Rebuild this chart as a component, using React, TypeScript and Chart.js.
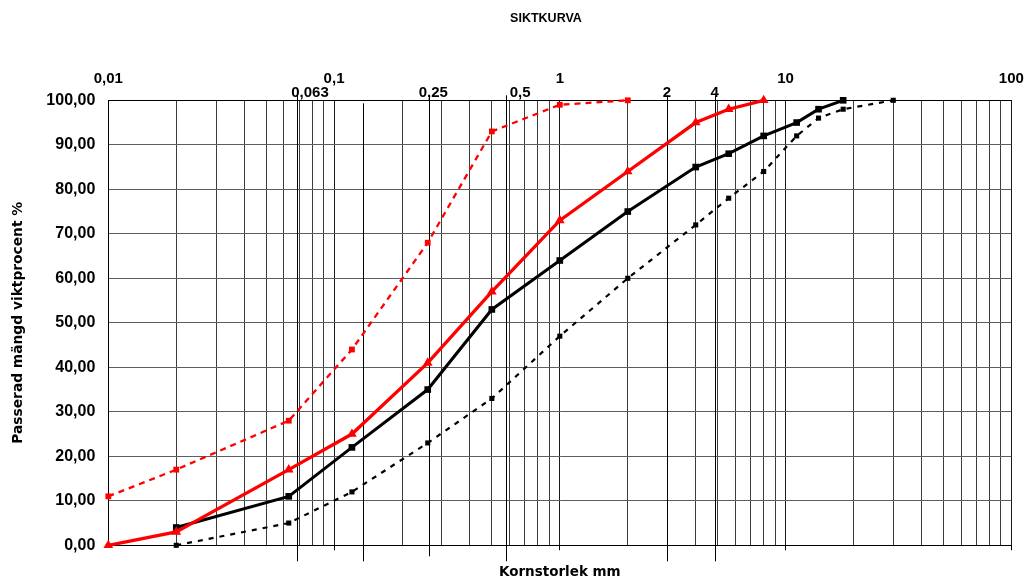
import React, { useEffect, useRef } from 'react';
import { Chart, registerables } from 'chart.js';

Chart.register(...registerables);

const TITLE = 'SIKTKURVA';
const X_TITLE = 'Kornstorlek mm';
const Y_TITLE = 'Passerad mängd viktprocent %';

// Sieve sizes (mm) as placed on the chart
const SIEVE_MM = [0.01, 0.02, 0.063, 0.12, 0.26, 0.5, 1, 2, 4, 5.6, 8, 11.2, 14, 18, 30];

// Passing percentages per sieve (null = no value)
const BLACK_SOLID = [null, 4, 11, 22, 35, 53, 64, 75, 85, 88, 92, 95, 98, 100, null];
const RED_SOLID = [0, 3, 17, 25, 41, 57, 73, 84, 95, 98, 100, null, null, null, null];
const RED_DASHED = [11, 17, 28, 44, 68, 93, 99, 100, null, null, null, null, null, null, null];
const BLACK_DASHED = [null, 0, 5, 12, 23, 33, 47, 60, 72, 78, 84, 92, 96, 98, 100];

// Axis ticks
const DECADE_TICKS = [0.01, 0.1, 1, 10, 100];
const DECADE_LABELS = ['0,01', '0,1', '1', '10', '100'];
const GRID_MANTISSAS = [1, 2, 3, 4, 5, 6, 7, 8, 9];
const Y_MIN = 0;
const Y_MAX = 100;
const Y_STEP = 10;

// Extra reference lines drawn across the chart, with their labels
const MARKER_LINES = [0.0685, 0.135, 0.264, 0.578, 2.98, 4.85];
const MARKER_LABELS = ['0,063', '', '0,25', '0,5', '2', '4'];

function toPoints(values: (number | null)[]) {
  return SIEVE_MM.map((x, i) => ({ x, y: values[i] })).filter((p) => p.y !== null);
}

function gridTicks() {
  const out: number[] = [];
  for (let d = 0; d < DECADE_TICKS.length - 1; d++) {
    for (const m of GRID_MANTISSAS) out.push(parseFloat((DECADE_TICKS[d] * m).toPrecision(6)));
  }
  out.push(DECADE_TICKS[DECADE_TICKS.length - 1]);
  return out;
}

const LABEL_DX = [13, 0, 4, 14, 0, 0];

const overlayPlugin = {
  id: 'overlay',
  beforeDatasetsDraw(chart: any) {
    const { ctx, chartArea, scales } = chart;
    const x = scales.x;
    ctx.save();
    ctx.strokeStyle = '#000';
    ctx.lineWidth = 1;
    MARKER_LINES.forEach((v, i) => {
      const px = Math.round(x.getPixelForValue(v)) + 0.5;
      const top = MARKER_LABELS[i] ? chartArea.top - 5 : chartArea.top + 3;
      const bottom = chartArea.bottom + (i === 2 ? 11 : 16);
      ctx.beginPath();
      ctx.moveTo(px, top);
      ctx.lineTo(px, bottom);
      ctx.stroke();
    });
    ctx.fillStyle = '#000';
    ctx.font = 'bold 15px "Liberation Sans"';
    ctx.textAlign = 'center';
    ctx.textBaseline = 'alphabetic';
    MARKER_LABELS.forEach((lab, i) => {
      if (!lab) return;
      const px = x.getPixelForValue(MARKER_LINES[i]) + LABEL_DX[i];
      ctx.fillText(lab, px, chartArea.top - 3);
    });
    ctx.font = 'bold 12.5px "Liberation Sans"';
    ctx.textBaseline = 'middle';
    ctx.fillText(TITLE, 546, 19);
    ctx.restore();
  },
};

export default function App() {
  const ref = useRef<HTMLCanvasElement | null>(null);

  useEffect(() => {
    if (!ref.current) return;
    const base = {
      showLine: true,
      spanGaps: false,
      pointBorderWidth: 0,
      fill: false,
      tension: 0,
      clip: false,
    };
    const noSidePadding = (s: any) => {
      s.paddingLeft = 0;
      s.paddingRight = 0;
    };
    const chart = new Chart(ref.current, {
      type: 'scatter',
      data: {
        datasets: [
          {
            ...base,
            label: 'red solid',
            data: toPoints(RED_SOLID),
            borderColor: '#ff0000',
            backgroundColor: '#ff0000',
            borderWidth: 3.3,
            pointStyle: 'triangle',
            pointRadius: 5.6,
            order: 0,
          },
          {
            ...base,
            label: 'black solid',
            data: toPoints(BLACK_SOLID),
            borderColor: '#000000',
            backgroundColor: '#000000',
            borderWidth: 3,
            pointStyle: 'rect',
            pointRadius: 4.7,
            order: 1,
          },
          {
            ...base,
            label: 'red dashed',
            data: toPoints(RED_DASHED),
            borderColor: '#ff0000',
            backgroundColor: '#ff0000',
            borderWidth: 2.3,
            borderDash: [6, 5],
            pointStyle: 'rect',
            pointRadius: 4.1,
            order: 2,
          },
          {
            ...base,
            label: 'black dashed',
            data: toPoints(BLACK_DASHED),
            borderColor: '#000000',
            backgroundColor: '#000000',
            borderWidth: 2.2,
            borderDash: [5, 6],
            pointStyle: 'rect',
            pointRadius: 3.6,
            order: 3,
          },
        ],
      },
      options: {
        animation: false,
        responsive: false,
        devicePixelRatio: 1,
        layout: { padding: { top: 0, right: 15.7, bottom: 0, left: 0 } },
        plugins: {
          legend: { display: false },
          tooltip: { enabled: false },
          title: { display: false },
        },
        scales: {
          x: {
            type: 'logarithmic',
            position: 'bottom',
            min: 0.01,
            max: 100,
            afterBuildTicks: (s: any) => {
              s.ticks = gridTicks().map((value) => ({ value }));
            },
            afterFit: (s: any) => {
              s.height = 33.7;
              noSidePadding(s);
            },
            ticks: { display: false },
            grid: {
              color: (c: any) => {
                const v = c.tick ? c.tick.value : 0;
                return DECADE_TICKS.includes(v) ? '#1a1a1a' : '#3c3c3c';
              },
              lineWidth: 1,
              drawTicks: true,
              tickLength: 5,
              tickColor: (c: any) => {
                const v = c.tick ? c.tick.value : 0;
                return DECADE_TICKS.includes(v) && v !== 0.01 ? '#000' : 'rgba(0,0,0,0)';
              },
            },
            border: { display: true, color: '#000', width: 1 },
            title: {
              display: true,
              text: X_TITLE,
              color: '#000',
              font: { family: '"DejaVu Sans"', weight: 'bold', size: 13.5, lineHeight: 1 },
              padding: { top: 0, bottom: 0 },
            },
          },
          x2: {
            type: 'logarithmic',
            position: 'top',
            min: 0.01,
            max: 100,
            afterBuildTicks: (s: any) => {
              s.ticks = DECADE_TICKS.map((value) => ({ value }));
            },
            afterFit: (s: any) => {
              s.height = 100.3;
              noSidePadding(s);
            },
            ticks: {
              color: '#000',
              padding: 12,
              maxRotation: 0,
              autoSkip: false,
              font: { family: '"Liberation Sans"', weight: 'bold', size: 15 },
              callback: (v: any) => {
                const i = DECADE_TICKS.indexOf(Number(v));
                return i >= 0 ? DECADE_LABELS[i] : '';
              },
            },
            grid: { display: false, drawOnChartArea: false, drawTicks: false },
            border: { display: true, color: '#000', width: 1 },
          },
          y: {
            type: 'linear',
            min: Y_MIN,
            max: Y_MAX,
            afterFit: (s: any) => {
              s.width = 108.3;
            },
            ticks: {
              stepSize: Y_STEP,
              color: '#000',
              padding: 13,
              font: { family: '"Liberation Sans"', weight: 'bold', size: 16 },
              callback: (v: any) => Number(v).toFixed(2).replace('.', ','),
            },
            grid: { color: '#5e5e5e', lineWidth: 1, drawTicks: false },
            border: { display: true, color: '#000', width: 1 },
            title: {
              display: true,
              text: Y_TITLE,
              color: '#000',
              font: { family: '"DejaVu Sans"', weight: 'bold', size: 13.8 },
              padding: { top: 10, bottom: 0 },
            },
          },
        },
      },
      plugins: [overlayPlugin],
    } as any);
    return () => chart.destroy();
  }, []);

  return (
    <div style={{ position: 'absolute', left: 0, top: 0, width: 1027, height: 579, background: '#fff' }}>
      <canvas ref={ref} width={1027} height={579} style={{ display: 'block' }} />
    </div>
  );
}
